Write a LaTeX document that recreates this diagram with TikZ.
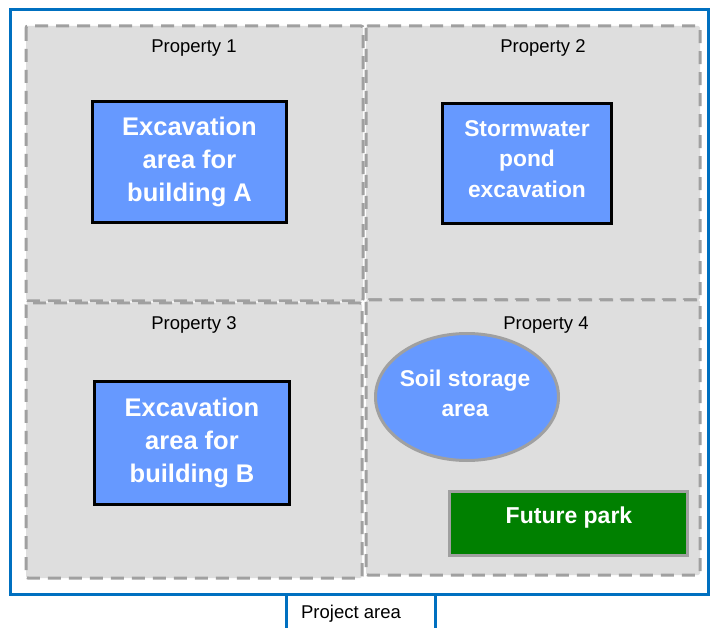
\documentclass[tikz,border=0pt]{standalone}
\usepackage{fontspec}
\setmainfont{Liberation Sans}
\usetikzlibrary{shapes.geometric}
\definecolor{outerblue}{RGB}{0,112,192}
\definecolor{propgray}{RGB}{222,222,222}
\definecolor{dashgray}{RGB}{160,160,160}
\definecolor{boxblue}{RGB}{102,153,255}
\definecolor{parkgreen}{RGB}{0,128,0}
\tikzset{
  prop/.style={draw=dashgray, fill=propgray, line width=3pt, dash pattern=on 13pt off 8pt, rounded corners=2pt},
  proplabel/.style={font=\fontsize{18.5}{22}\selectfont, text=black},
  bluebox/.style={draw=black, fill=boxblue, line width=2.5pt, inner sep=0pt, align=center, text=white, font=\fontsize{25.5}{33}\selectfont\bfseries},
  bigtext/.style={align=center, text=white, inner sep=0pt},
}
\begin{document}
\begin{tikzpicture}[x=1pt,y=-1pt]
\useasboundingbox (0,0) rectangle (710,628);
\fill[white] (0,0) rectangle (710,628);
% outer project area
\draw[outerblue, line width=3pt] (10,10) rectangle (708,594);
\draw[outerblue, line width=3pt] (286,594) -- (286,630);
\draw[outerblue, line width=3pt] (435,594) -- (435,630);
\node[font=\fontsize{18.5}{22}\selectfont] (proj) at (351,614) {Project area};
% properties
\draw[prop] (26,26) rectangle (363,301);
\draw[prop] (366,26) rectangle (700,300);
\draw[prop] (26,303) rectangle (362,578);
\draw[prop] (366,300) rectangle (700,575);
\node[proplabel] (p1) at (194,48) {Property 1};
\node[proplabel] (p2) at (543,48) {Property 2};
\node[proplabel] (p3) at (194,325) {Property 3};
\node[proplabel] (p4) at (546,325) {Property 4};
% boxes
\node[bluebox, minimum width=194pt, minimum height=121pt] (bA) at (189.5,162) {Excavation\\area for\\building A};
\node[bluebox, minimum width=169pt, minimum height=120pt] (sw) at (527,163.5) {};
\node[bigtext, font=\fontsize{22.8}{30.5}\selectfont\bfseries] (swtxt) at (527,159) {Stormwater\\pond\\excavation};
\node[bluebox, minimum width=195pt, minimum height=123pt] (bB) at (192,443) {Excavation\\area for\\building B};
% ellipse
\node[ellipse, draw=dashgray, fill=boxblue, line width=3pt, minimum width=183pt, minimum height=127pt] (soil) at (467,397) {};
\node[bigtext, font=\fontsize{22.8}{30}\selectfont\bfseries] (soiltxt) at (465,393) {Soil storage\\area};
% park
\node[draw=dashgray, fill=parkgreen, line width=3pt, minimum width=238pt, minimum height=64pt, inner sep=0pt] (park) at (568.5,523.5) {};
\node[bigtext, font=\fontsize{23}{26}\selectfont\bfseries] (parktxt) at (569,518) {Future park};
\end{tikzpicture}
\end{document}
